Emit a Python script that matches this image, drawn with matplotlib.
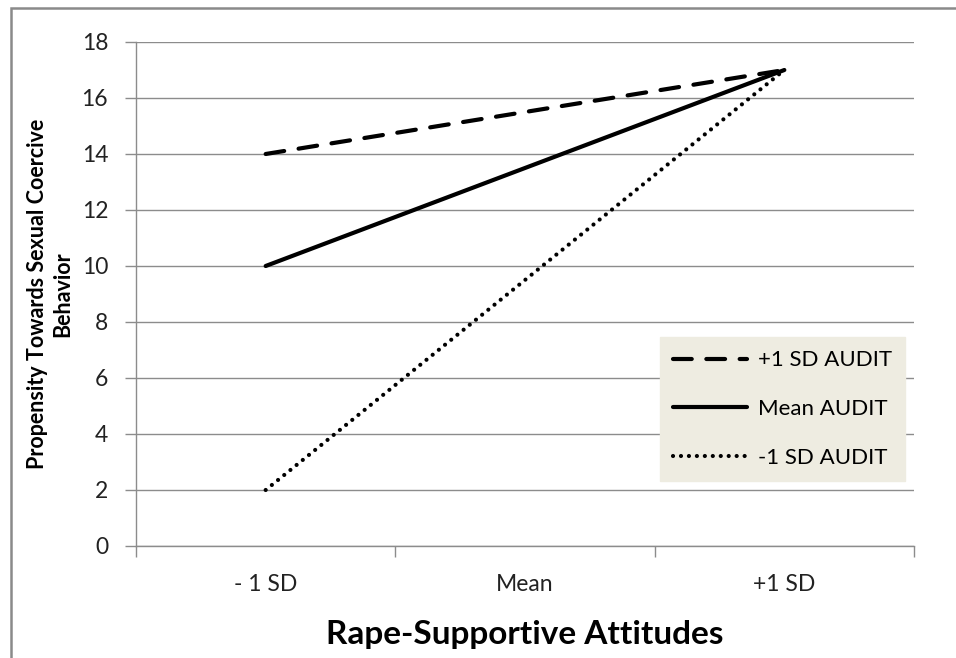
import numpy as np
import matplotlib.pyplot as plt
from matplotlib.patches import Rectangle

plt.rcParams['font.family'] = ['Lato', 'DejaVu Sans']

# data
categories = ['- 1 SD', 'Mean', '+1 SD']
x_idx = [0, 2]                     # points drawn at -1 SD and +1 SD
plus_sd = [14, 17]
mean_audit = [10, 17]
minus_sd = [2, 17]
series_names = ['+1 SD AUDIT', 'Mean AUDIT', '-1 SD AUDIT']
y_ticks = [0, 2, 4, 6, 8, 10, 12, 14, 16, 18]

fig = plt.figure(figsize=(9.56, 6.58), dpi=100)
ax = fig.add_axes([136/956, 1-546/658, (914-136)/956, (546-42)/658])

grid_c = '#8c8c8c'
ax.plot(x_idx, plus_sd, color='black', lw=3.0, linestyle=(0, (4.5, 3.5)),
        dash_capstyle='round', label=series_names[0])
ax.plot(x_idx, mean_audit, color='black', lw=3.0, solid_capstyle='round',
        label=series_names[1])
ax.plot(x_idx, minus_sd, color='black', lw=3.0, linestyle=(0, (0.01, 1.9)),
        dash_capstyle='round', label=series_names[2])

ax.set_xlim(-0.5, 2.5)
ax.set_ylim(0, 18)
ax.set_yticks(y_ticks)
ax.set_xticks([0, 1, 2])
ax.set_xticklabels(categories)
ax.set_xticks([-0.5, 0.5, 1.5, 2.5], minor=True)
ax.tick_params(axis='x', which='major', length=0, pad=20, labelsize=16.5, colors='#222222')
ax.tick_params(axis='x', which='minor', length=8, color=grid_c, width=1, direction='out')
ax.tick_params(axis='y', length=8, color=grid_c, width=1, labelsize=16.5, pad=12,
               colors='#222222')
ax.yaxis.grid(True, color=grid_c, lw=1)
ax.set_axisbelow(True)
for s in ['top', 'right']:
    ax.spines[s].set_visible(False)
for s in ['left', 'bottom']:
    ax.spines[s].set_color(grid_c)
    ax.spines[s].set_linewidth(1)

ax.set_ylabel('Propensity Towards Sexual Coercive\nBehavior', fontsize=15.5,
              fontweight='bold', labelpad=6, linespacing=1.25)
ax.set_xlabel('Rape-Supportive Attitudes', fontsize=24, fontweight='bold', labelpad=18)

leg = ax.legend(loc='upper left', bbox_to_anchor=((660-136)/778, (546-337)/504),
                fontsize=16, frameon=True, fancybox=False, borderpad=0.6,
                labelspacing=1.3, handlelength=3.3, handletextpad=0.5,
                borderaxespad=0)
leg.get_frame().set_facecolor('#eeece1')
leg.get_frame().set_edgecolor('#eeece1')
leg.get_frame().set_alpha(1)

# outer chart border
fig.patches.append(Rectangle((11/956, -0.1), 1.2, 1.1 - 8/658, transform=fig.transFigure,
                             fill=False, edgecolor='#8a8a8a', lw=1.8))

fig.savefig('out.png', dpi=100)
